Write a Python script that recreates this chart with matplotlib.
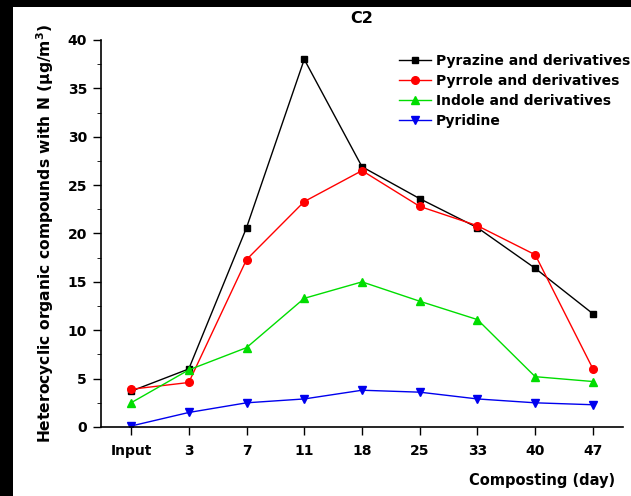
import matplotlib
matplotlib.use('Agg')
import matplotlib.pyplot as plt
from matplotlib.patches import Rectangle
from matplotlib.ticker import MultipleLocator

plt.rcParams['font.family'] = ['DejaVu Sans']
plt.rcParams['font.weight'] = 'bold'
plt.rcParams['mathtext.default'] = 'bf'

days = ['Input', '3', '7', '11', '18', '25', '33', '40', '47']
pyrazine = [3.7, 6.0, 20.6, 38.0, 26.9, 23.6, 20.6, 16.4, 11.7]
pyrrole = [3.9, 4.6, 17.3, 23.3, 26.5, 22.8, 20.8, 17.8, 6.0]
indole = [2.5, 5.9, 8.2, 13.3, 15.0, 13.0, 11.1, 5.2, 4.7]
pyridine = [0.1, 1.5, 2.5, 2.9, 3.8, 3.6, 2.9, 2.5, 2.3]

fig = plt.figure(figsize=(6.31, 4.96), dpi=100)
fig.patch.set_facecolor('black')
fig.patches.append(Rectangle((13 / 631, 0), 1, 1 - 7 / 496, transform=fig.transFigure,
                             facecolor='white', edgecolor='none', zorder=-10))

ax = fig.add_axes([101 / 631, 69 / 496, 522 / 631, 387 / 496])
ax.set_facecolor('none')
x = list(range(len(days)))

ax.plot(x, pyrazine, color='black', marker='s', ms=5, lw=1, label='Pyrazine and derivatives')
ax.plot(x, pyrrole, color='#ff0000', marker='o', ms=5.5, lw=1, label='Pyrrole and derivatives')
ax.plot(x, indole, color='#00dd00', marker='^', ms=6, lw=1, label='Indole and derivatives')
ax.plot(x, pyridine, color='#0000ee', marker='v', ms=6, lw=1, label='Pyridine')

ax.set_xlim(-0.52, 8.52)
ax.set_ylim(0, 40)
ax.set_xticks(x)
ax.set_xticklabels(days)
ax.yaxis.set_major_locator(MultipleLocator(5))
ax.yaxis.set_minor_locator(MultipleLocator(2.5))
ax.tick_params(axis='both', direction='out', labelsize=10, width=1)
ax.tick_params(axis='x', length=6, pad=6)
ax.tick_params(axis='y', which='major', length=6, pad=4)
ax.tick_params(axis='y', which='minor', length=3)
for s in ['top', 'right']:
    ax.spines[s].set_visible(False)
for s in ['left', 'bottom']:
    ax.spines[s].set_linewidth(1.2)

ax.set_title('C2', fontsize=11.5, weight='bold', pad=12)
ax.set_ylabel('Heterocyclic organic compounds with N (\u03bcg/m$^3$)',
              fontsize=11.2, weight='bold', labelpad=8)
fig.text(615 / 631, 1 - 481 / 496, 'Composting (day)', ha='right', va='center',
         fontsize=10.5, weight='bold')

ax.legend(loc='upper left', bbox_to_anchor=(399 / 631, 1 - 54 / 496),
          bbox_transform=fig.transFigure, frameon=False, fontsize=10,
          handlelength=2.3, handletextpad=0.35, labelspacing=0.42, borderpad=0,
          borderaxespad=0)

fig.savefig('out.png', dpi=100, facecolor=fig.get_facecolor())
